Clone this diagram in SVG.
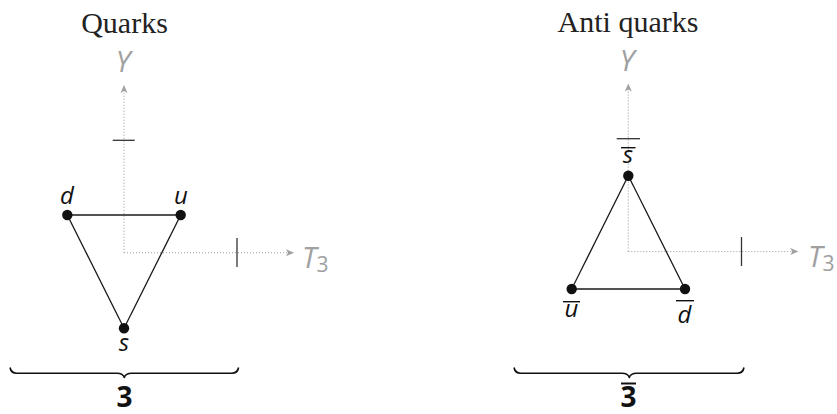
<svg xmlns="http://www.w3.org/2000/svg" width="837" height="414" viewBox="0 0 837 414">
<style>
.title{font-family:"Liberation Serif","Times New Roman",serif;font-size:30px;fill:#222;text-anchor:middle}
.axlab{font-family:"Open Sans","DejaVu Sans",sans-serif;font-style:italic;font-size:29px;fill:#a0a0a0}
.sub{font-family:"Open Sans","DejaVu Sans",sans-serif;font-style:normal;font-size:21px;fill:#a0a0a0}
.lab{font-family:"Open Sans","DejaVu Sans",sans-serif;font-style:italic;font-size:24px;fill:#111;text-anchor:middle}
.rep{font-family:"Open Sans","DejaVu Sans",sans-serif;font-weight:bold;font-size:28px;fill:#111;text-anchor:middle}
.axis{stroke:#a0a0a0;stroke-width:1.1;stroke-dasharray:1 2;fill:none}
.tick{stroke:#333;stroke-width:1.3;fill:none}
.edge{stroke:#1a1a1a;stroke-width:1.3;fill:none}
.bar{stroke:#111;stroke-width:1.4}
.brace{stroke:#111;stroke-width:1.6;fill:none;stroke-linejoin:round}
.dot{fill:#111}
</style>
<defs>
<marker id="arr" markerUnits="userSpaceOnUse" markerWidth="10" markerHeight="8" refX="8" refY="4" orient="auto">
<path d="M0,0.5 L8,4 L0,7.5 L2,4 Z" fill="#a0a0a0"/>
</marker>
</defs>

<!-- Left panel: Quarks -->
<text class="title" x="124.5" y="33">Quarks</text>
<g id="axes-left">
<line class="axis" x1="124" y1="252.7" x2="124" y2="85" marker-end="url(#arr)"/>
<line class="axis" x1="124" y1="252.7" x2="294" y2="252.7" marker-end="url(#arr)"/>
<line class="tick" x1="112.7" y1="140.3" x2="134.7" y2="140.3"/>
<line class="tick" x1="237" y1="238" x2="237" y2="267"/>
<text class="axlab" x="123" y="72" text-anchor="middle">Y</text>
<text class="axlab" x="302" y="268">T<tspan class="sub" dy="4">3</tspan></text>
</g>
<g id="connectors-left">
<line class="edge" x1="67.3" y1="215" x2="180.7" y2="215"/>
<line class="edge" x1="67.3" y1="215" x2="124" y2="328.3"/>
<line class="edge" x1="180.7" y1="215" x2="124" y2="328.3"/>
</g>
<g id="node-d">
<circle class="dot" cx="67.3" cy="215" r="5.2"/>
<text class="lab" x="67" y="204">d</text>
</g>
<g id="node-u">
<circle class="dot" cx="180.7" cy="215" r="5.2"/>
<text class="lab" x="181" y="204">u</text>
</g>
<g id="node-s">
<circle class="dot" cx="124" cy="328.3" r="5.2"/>
<text class="lab" x="124" y="351">s</text>
</g>
<g id="brace-left">
<path class="brace" d="M10,367.5 Q11,373.3 17,373.3 L117,373.3 Q123,373.3 124.3,377.5 Q125.6,373.3 131.6,373.3 L231.6,373.3 Q237.6,373.3 238.6,367.5"/>
<text class="rep" x="124.5" y="406.5">3</text>
</g>

<!-- Right panel: Anti quarks -->
<text class="title" x="628" y="32">Anti quarks</text>
<g id="axes-right">
<line class="axis" x1="628.3" y1="251.5" x2="628.3" y2="83.5" marker-end="url(#arr)"/>
<line class="axis" x1="628.3" y1="251.5" x2="798.3" y2="251.5" marker-end="url(#arr)"/>
<line class="tick" x1="616.7" y1="138.7" x2="640" y2="138.7"/>
<line class="tick" x1="741.5" y1="237" x2="741.5" y2="266"/>
<text class="axlab" x="627" y="70.5" text-anchor="middle">Y</text>
<text class="axlab" x="808" y="267">T<tspan class="sub" dy="4">3</tspan></text>
</g>
<g id="connectors-right">
<line class="edge" x1="571.7" y1="289" x2="685" y2="289"/>
<line class="edge" x1="628.3" y1="175.7" x2="571.7" y2="289"/>
<line class="edge" x1="628.3" y1="175.7" x2="685" y2="289"/>
</g>
<g id="node-sbar">
<circle class="dot" cx="628.3" cy="175.7" r="5.2"/>
<text class="lab" x="628" y="162.5">s</text>
<line class="bar" x1="621" y1="147.7" x2="635.5" y2="147.7"/>
</g>
<g id="node-ubar">
<circle class="dot" cx="571.7" cy="289" r="5.2"/>
<text class="lab" x="571.5" y="316.7">u</text>
<line class="bar" x1="563" y1="301.7" x2="580" y2="301.7"/>
</g>
<g id="node-dbar">
<circle class="dot" cx="685" cy="289" r="5.2"/>
<text class="lab" x="684.5" y="323.3">d</text>
<line class="bar" x1="676" y1="300.7" x2="694" y2="300.7"/>
</g>
<g id="brace-right">
<path class="brace" d="M514,367.5 Q515,373.3 521,373.3 L622,373.3 Q628,373.3 629.3,377.5 Q630.6,373.3 636.6,373.3 L737,373.3 Q743,373.3 744,367.5"/>
<text class="rep" x="628.5" y="406.5">3</text>
<line class="bar" style="stroke-width:2" x1="621" y1="383.5" x2="636" y2="383.5"/>
</g>
</svg>
